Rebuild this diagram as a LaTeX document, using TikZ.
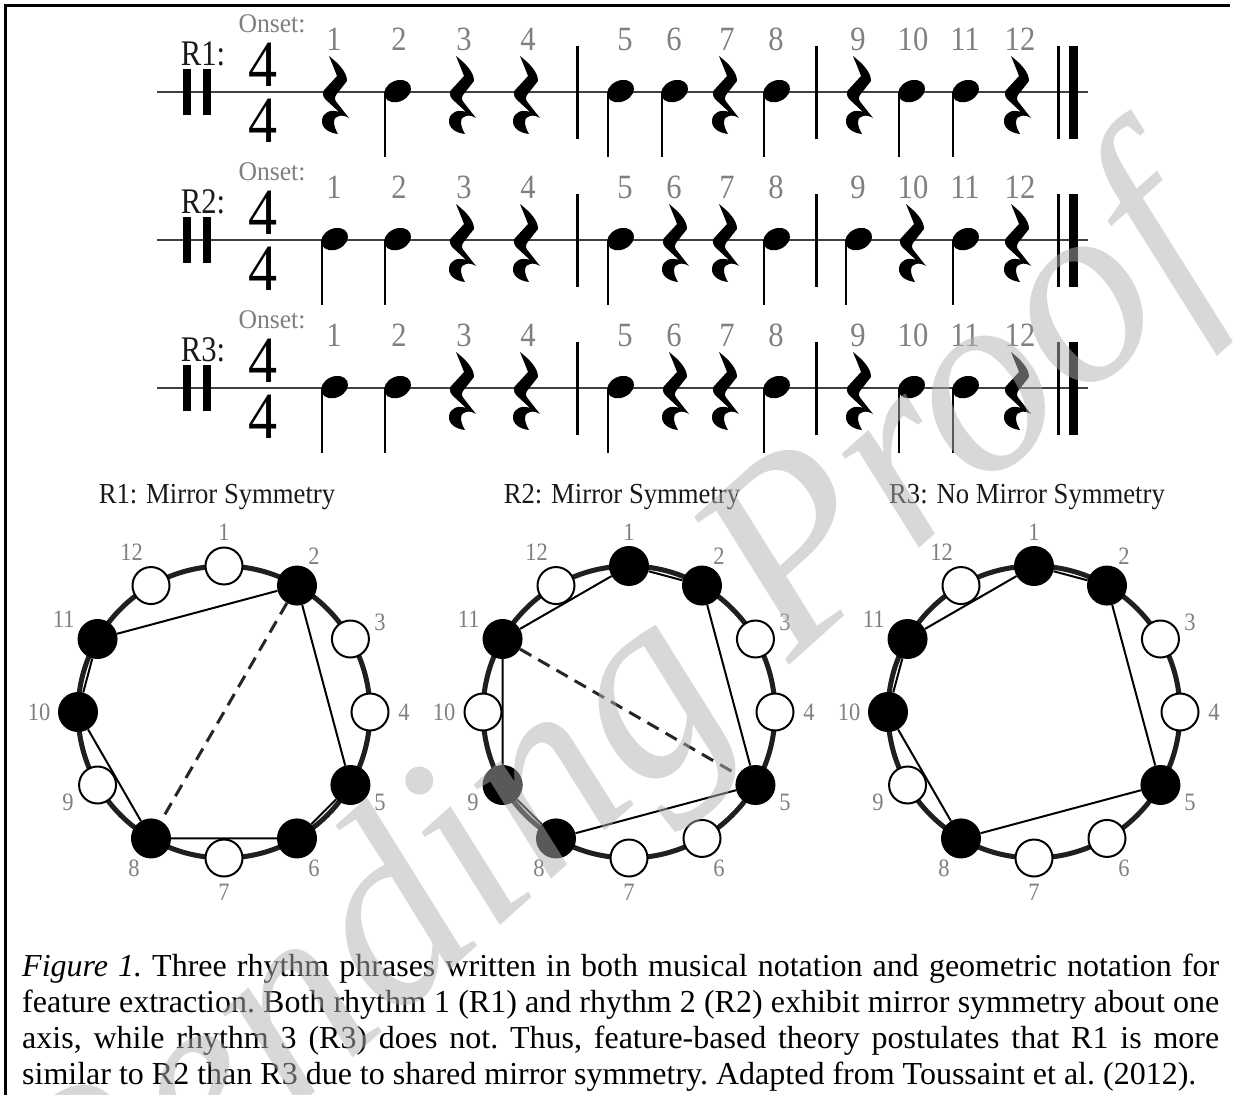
\documentclass[tikz,border=0pt]{standalone}
\usepackage{fontspec}
\setmainfont{Liberation Serif}
\usepackage{graphicx}
\newcommand\sx[2]{\scalebox{#1}[1]{#2}}
\tikzset{
  staffline/.style={line width=2pt, draw=black!75},
  barln/.style={line width=3pt, draw=black},
  rlab/.style={anchor=base, inner sep=0pt, text=black!90, font=\fontsize{36}{36}\selectfont},
  onsetlab/.style={anchor=base, inner sep=0pt, text=black!50, font=\fontsize{27}{27}\selectfont},
  tsig/.style={anchor=base, inner sep=0pt, text=black, font=\fontsize{66}{66}\selectfont},
  onum/.style={anchor=base, inner sep=0pt, text=black!50, font=\fontsize{34}{34}\selectfont},
  ctitle/.style={anchor=base, inner sep=0pt, text=black!90, font=\fontsize{29}{29}\selectfont},
  clab/.style={inner sep=0pt, text=black!50, font=\fontsize{25}{25}\selectfont},
  onode/.style={circle, draw=black, line width=2pt, fill=white, minimum size=37pt, inner sep=0pt},
  fnode/.style={circle, fill=black, minimum size=40pt, inner sep=0pt},
  ringline/.style={line width=5pt, draw=black!88},
  chordline/.style={line width=2pt, draw=black},
  mirrorline/.style={line width=3pt, draw=black!85, dash pattern=on 13pt off 8pt},
  captext/.style={anchor=base west, inner sep=0pt, text=black, font=\fontsize{32}{32}\selectfont\frenchspacing},
  qrest/.pic={\fill[black] (-6,-36) .. controls (4,-28) and (12,-20) .. (12,-11) -- (1,3)
      .. controls (-1,6) and (0,9) .. (3,12) -- (14,26)
      .. controls (8,22) and (-1,23) .. (-1,30) .. controls (-1,35) and (1,38) .. (3,42)
      .. controls (-6,41) and (-14,36) .. (-13,28) .. controls (-12,20) and (-4,17) .. (4,20)
      -- (-10,7) .. controls (-13,3) and (-13,-1) .. (-9,-4) -- (2,-16)
      .. controls (-1,-24) and (-4,-31) .. (-6,-36) -- cycle;},
  qnote/.pic={\fill[black, rotate=25] (0,-1) ellipse [x radius=14, y radius=10.5];
      \draw[black, line width=2.5pt] (-13,0) -- (-13,65);}
}
\newcommand\staffrow[4]{%
  \draw[staffline] (157,#2) -- (1088,#2);
  \fill (183,#2-23) rectangle (191,#2+23);
  \fill (203,#2-23) rectangle (211,#2+23);
  \node[rlab] (#1lab) at (203,#2-27) {\sx{0.85}{#3}};
  \node[onsetlab] (#1on) at (272,#2-60) {\sx{0.95}{Onset:}};
  \node[tsig] (#1tsa) at (263,#2-6) {\sx{0.88}{4}};
  \node[tsig] (#1tsb) at (263,#2+50) {\sx{0.88}{4}};
  \foreach \x [count=\n] in {334,399,464,528,625,674,727,776,858,913,965,1020}
    {\node[onum] (#1num\n) at (\x,#2-42) {\sx{0.9}{\n}};}
  \foreach \x/\p in {#4} {\ifnum\p=1 \pic at (\x,#2) {qnote}; \else \pic at (\x,#2) {qrest}; \fi}
  \draw[barln] (577,#2-46) -- (577,#2+47);
  \draw[barln] (816,#2-46) -- (816,#2+47);
  \draw[barln] (1058,#2-46) -- (1058,#2+47);
  \fill (1069,#2-46) rectangle (1078,#2+47);
}
\newcommand\rhythmcircle[5]{%
  \node[ctitle] (#1title) at (#2-7,503) {\sx{0.92}{#3}};
  \begin{scope}[shift={(#2,712)}]
    \draw[ringline] (0,0) circle [radius=146];
    \foreach \k/\s in {#4} {
      \pgfmathsetmacro\rr{\k>9 ? 185 : 180}
      \node[\s] (#1\k) at (30*\k-120:146) {};
      \node[clab] (#1l\k) at (30*\k-120:\rr) {\sx{0.9}{\k}};
    }
  \end{scope}
  #5
}
\begin{document}
\begin{tikzpicture}[x=1pt,y=-1pt]
\useasboundingbox (0,0) rectangle (1235,1095);
\fill[white] (0,0) rectangle (1235,1095);
\draw[line width=3pt] (5.5,1095) -- (5.5,5) -- (1230,5);

\staffrow{ra}{92}{R1:}{335/0,398/1,462/0,526/0,621/1,675/1,725/0,777/1,859/0,912/1,966/1,1017/0}
\staffrow{rb}{240}{R2:}{335/1,398/1,462/0,526/0,621/1,675/0,725/0,777/1,859/1,912/0,966/1,1017/0}
\staffrow{rc}{388}{R3:}{335/1,398/1,462/0,526/0,621/1,675/0,725/0,777/1,859/0,912/1,966/1,1017/0}

\rhythmcircle{a}{224}{R1: Mirror Symmetry}
  {1/onode,2/fnode,3/onode,4/onode,5/fnode,6/fnode,7/onode,8/fnode,9/onode,10/fnode,11/fnode,12/onode}
  {\draw[chordline] (a2) -- (a5) -- (a6) -- (a8) -- (a10) -- (a11) -- (a2);
   \draw[mirrorline] (a2) -- (a8);}
\rhythmcircle{b}{629}{R2: Mirror Symmetry}
  {1/fnode,2/fnode,3/onode,4/onode,5/fnode,6/onode,7/onode,8/fnode,9/fnode,10/onode,11/fnode,12/onode}
  {\draw[chordline] (b1) -- (b2) -- (b5) -- (b8) -- (b9) -- (b11) -- (b1);
   \draw[mirrorline] (b11) -- (b5);}
\rhythmcircle{c}{1034}{R3: No Mirror Symmetry}
  {1/fnode,2/fnode,3/onode,4/onode,5/fnode,6/onode,7/onode,8/fnode,9/onode,10/fnode,11/fnode,12/onode}
  {\draw[chordline] (c1) -- (c2) -- (c5) -- (c8) -- (c10) -- (c11) -- (c1);}

\node[captext] (cap1) at (22,976) {\hbox to 1197pt{\textit{Figure 1.} Three rhythm phrases written in both musical notation and geometric notation for}};
\node[captext] (cap2) at (22,1012) {\hbox to 1197pt{feature extraction. Both rhythm 1 (R1) and rhythm 2 (R2) exhibit mirror symmetry about one}};
\node[captext] (cap3) at (22,1048) {\hbox to 1197pt{axis, while rhythm 3 (R3) does not. Thus, feature-based theory postulates that R1 is more}};
\node[captext] (cap4) at (22,1084) {similar to R2 than R3 due to shared mirror symmetry. Adapted from Toussaint et al. (2012).};

\node[rotate=42, text=black!30, opacity=0.5, inner sep=0pt, font=\fontsize{265}{265}\selectfont\itshape] (wm) at (615,735) {Pending Proof};
\end{tikzpicture}
\end{document}
